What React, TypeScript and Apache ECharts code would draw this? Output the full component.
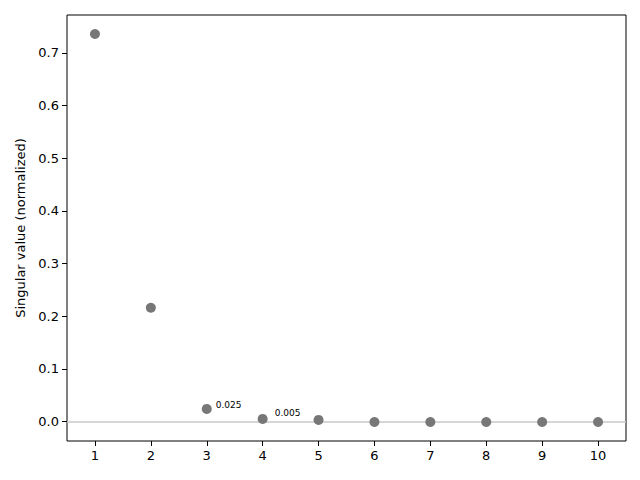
import React, { useEffect, useRef } from "react";
import * as echarts from "echarts";

const components = [1, 2, 3, 4, 5, 6, 7, 8, 9, 10];
const singularValues = [0.736, 0.216, 0.024, 0.005, 0.003, -0.001, -0.001, -0.001, -0.001, -0.001];
const annotatedIndices = [2, 3];
const annotationTexts = ["0.025", "0.005"];
const xTicks = [1, 2, 3, 4, 5, 6, 7, 8, 9, 10];
const yTicks = [0, 0.1, 0.2, 0.3, 0.4, 0.5, 0.6, 0.7];

const FONT = "DejaVu Sans";

export default function App() {
  const ref = useRef<HTMLDivElement>(null);
  useEffect(() => {
    if (!ref.current) return;
    const chart = echarts.init(ref.current, null, { renderer: "svg" });
    const offsets: Record<number, number[]> = { 2: [9, -4], 3: [12, -6] };
    const data = components.map((c, i) => {
      const ai = annotatedIndices.indexOf(i);
      const item: any = { value: [c, singularValues[i]] };
      if (ai >= 0) {
        item.label = {
          show: true,
          formatter: annotationTexts[ai],
          position: "inside",
          align: "left",
          verticalAlign: "middle",
          offset: offsets[i],
          fontSize: 9,
          fontFamily: FONT,
          color: "#000",
        };
      }
      return item;
    });
    chart.setOption({
      animation: false,
      backgroundColor: "#fff",
      grid: {
        left: 67,
        right: 14,
        top: 15,
        bottom: 39,
        show: true,
        borderColor: "#000",
        borderWidth: 1,
        backgroundColor: "transparent",
      },
      xAxis: {
        type: "value",
        min: 0.5,
        max: 10.5,
        axisLine: { show: false, onZero: false },
        splitLine: { show: false },
        axisTick: {
          show: true,
          customValues: xTicks,
          length: 5,
          lineStyle: { color: "#000" },
        },
        axisLabel: {
          customValues: xTicks,
          color: "#000",
          fontSize: 13,
          fontFamily: FONT,
          margin: 8,
          formatter: (v: number) => String(v),
        },
      },
      yAxis: {
        type: "value",
        min: -0.037,
        max: 0.772,
        name: "Singular value (normalized)",
        nameLocation: "middle",
        nameGap: 40,
        nameTextStyle: { color: "#000", fontSize: 13, fontFamily: FONT },
        axisLine: { show: false, onZero: false },
        splitLine: { show: false },
        axisTick: {
          show: true,
          customValues: yTicks,
          length: 5,
          lineStyle: { color: "#000" },
        },
        axisLabel: {
          customValues: yTicks,
          color: "#000",
          fontSize: 13,
          fontFamily: FONT,
          margin: 8,
          formatter: (v: number) => v.toFixed(1),
        },
      },
      series: [
        {
          type: "scatter",
          data,
          symbolSize: 10,
          itemStyle: { color: "#777777", opacity: 1 },
          markLine: {
            silent: true,
            symbol: "none",
            label: { show: false },
            lineStyle: { color: "#c8c8c8", width: 1.5, type: "solid" },
            data: [{ yAxis: 0 }],
            z: 1,
          },
          z: 3,
        },
      ],
    });
    return () => chart.dispose();
  }, []);
  return (
    <div
      ref={ref}
      style={{ position: "fixed", left: 0, top: 0, width: 640, height: 480 }}
    />
  );
}
